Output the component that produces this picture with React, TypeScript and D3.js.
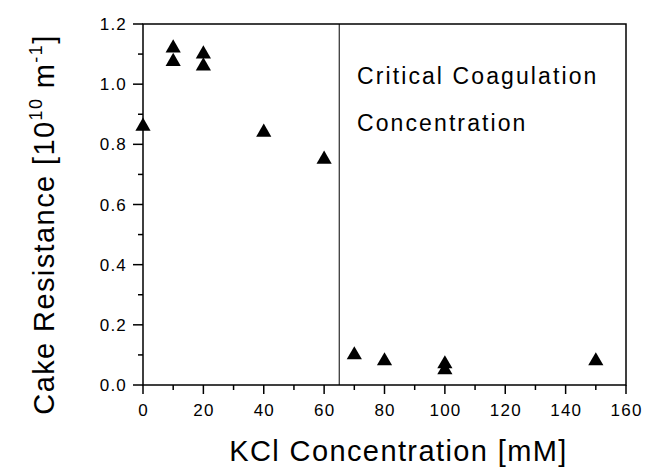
import React from "react";
import * as d3 from "d3";

const kclConc = [0, 10, 10, 20, 20, 40, 60, 70, 80, 100, 100, 150];
const cakeResistance = [0.86, 1.12, 1.075, 1.10, 1.06, 0.84, 0.75, 0.10, 0.08, 0.07, 0.05, 0.08];
const xTicks = [0, 20, 40, 60, 80, 100, 120, 140, 160];
const yTicks = [0.0, 0.2, 0.4, 0.6, 0.8, 1.0, 1.2];
const cccValue = [65];

const W = 655, H = 476;
const M = { left: 143, right: 29, top: 24, bottom: 91 };
const FONT = "Arial, 'Liberation Sans', sans-serif";

export default function App() {
  const x = d3.scaleLinear().domain([0, 160]).range([M.left, W - M.right]);
  const y = d3.scaleLinear().domain([0, 1.2]).range([H - M.bottom, M.top]);
  const xMinor = d3.range(10, 160, 20);
  const yMinor = d3.range(0.1, 1.2, 0.2);
  const tri = d3.symbol().type(d3.symbolTriangle).size(100);
  const x0 = x(0), x1 = x(160), y0 = y(0), y1 = y(1.2);
  return (
    <svg width={W} height={H} style={{ position: "absolute", left: 0, top: 0, background: "#fff" }}>
      <rect x={0} y={0} width={W} height={H} fill="#fff" />
      <rect x={x0} y={y1} width={x1 - x0} height={y0 - y1} fill="none" stroke="#000" strokeWidth={1.5} />
      {cccValue.map((v, i) => (
        <line key={i} x1={x(v)} x2={x(v)} y1={y1} y2={y0} stroke="#000" strokeWidth={1} />
      ))}
      {xTicks.map((t) => (
        <g key={"xt" + t}>
          <line x1={x(t)} x2={x(t)} y1={y0} y2={y0 + 9} stroke="#000" strokeWidth={1.5} />
          <text x={x(t) + 0.6} y={y0 + 31} textAnchor="middle" fontFamily={FONT} fontSize={17} letterSpacing={1.2}>{t}</text>
        </g>
      ))}
      {xMinor.map((t) => (
        <line key={"xm" + t} x1={x(t)} x2={x(t)} y1={y0} y2={y0 + 5} stroke="#000" strokeWidth={1.5} />
      ))}
      {yTicks.map((t) => (
        <g key={"yt" + t}>
          <line x1={x0 - 10} x2={x0} y1={y(t)} y2={y(t)} stroke="#000" strokeWidth={1.5} />
          <text x={x0 - 16} y={y(t) + 6} textAnchor="end" fontFamily={FONT} fontSize={17} letterSpacing={1.2}>{t.toFixed(1)}</text>
        </g>
      ))}
      {yMinor.map((t) => (
        <line key={"ym" + t} x1={x0 - 5} x2={x0} y1={y(t)} y2={y(t)} stroke="#000" strokeWidth={1.5} />
      ))}
      {kclConc.map((c, i) => (
        <path key={"p" + i} d={tri() as string} transform={`translate(${x(c)},${y(cakeResistance[i])})`} fill="#000" />
      ))}
      <text x={357} y={84} fontFamily={FONT} fontSize={23} letterSpacing={2.1}>Critical Coagulation</text>
      <text x={357} y={131} fontFamily={FONT} fontSize={23} letterSpacing={2.1}>Concentration</text>
      <text x={(x0 + x1) / 2 + 14} y={461} textAnchor="middle" fontFamily={FONT} fontSize={29} letterSpacing={1.4}>KCl Concentration [mM]</text>
      <text transform={`translate(54,${(y0 + y1) / 2 + 20}) rotate(-90)`} textAnchor="middle" fontFamily={FONT} fontSize={29} letterSpacing={1.4}>
        Cake Resistance [10<tspan dy={-12} fontSize={18}>10</tspan><tspan dy={12}> m</tspan><tspan dy={-12} fontSize={18}>-1</tspan><tspan dy={12}>]</tspan>
      </text>
    </svg>
  );
}
